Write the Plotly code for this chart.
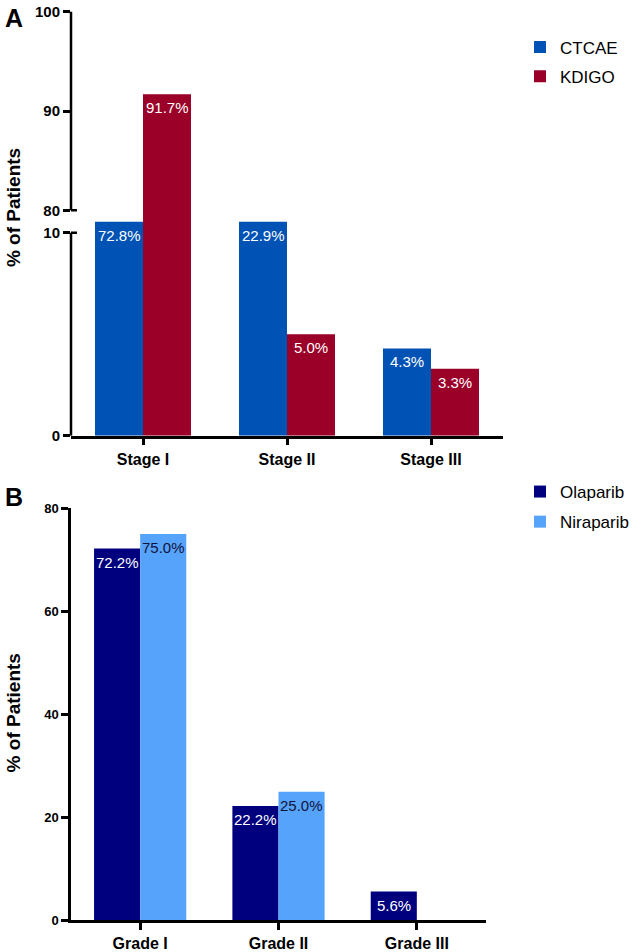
import plotly.graph_objects as go

# ---------------- data ----------------
stages = ["Stage I", "Stage II", "Stage III"]
ctcae = [72.8, 22.9, 4.3]
kdigo = [91.7, 5.0, 3.3]

grades = ["Grade I", "Grade II", "Grade III"]
olaparib = [72.2, 22.2, 5.6]
niraparib = [75.0, 25.0, 0.0]

top_lower_ticks = [0, 10]
top_upper_ticks = [80, 90, 100]
bottom_ticks = [0, 20, 40, 60, 80]

# ---------------- styling / layout geometry (pixels) ----------------
W, H = 634, 952
FONT = "Liberation Sans, Arial, Helvetica, sans-serif"
C_CTCAE = "#0052B4"
C_KDIGO = "#9A0028"
C_OLA = "#00007E"
C_NIRA = "#56A3FC"
LW = 2.5


def py(px):
    return 1 - px / H


def pxx(px):
    return px / W


top_x = (71, 503)
# pixel anchors of the broken axis
up_top_px, up_bot_px = 2, 207        # pixel of 100 and 80
lo_top_px, lo_bot_px = 230, 437      # pixel of 10 and 0
break_px = 219                       # where the two segments meet
overlap = 2                          # upper segment reaches a little lower to hide the seam
lo_scale = (lo_bot_px - lo_top_px) / (top_lower_ticks[-1] - top_lower_ticks[0])
up_scale = (up_bot_px - up_top_px) / (top_upper_ticks[-1] - top_upper_ticks[0])
lower_range = [0, (lo_bot_px - break_px) / lo_scale]
upper_range = [top_upper_ticks[0] - (break_px + overlap - up_bot_px) / up_scale,
               top_upper_ticks[-1] + 3 / up_scale]

bot_x = (71, 486)
bot_y = (931, 511)

fig = go.Figure()

for ya, show in (("y", True), ("y2", False)):
    fig.add_trace(go.Bar(x=stages, y=ctcae, name="CTCAE", marker_color=C_CTCAE,
                         xaxis="x", yaxis=ya, showlegend=show, legend="legend",
                         legendgroup="c", offsetgroup="c", marker_line_width=0))
    fig.add_trace(go.Bar(x=stages, y=kdigo, name="KDIGO", marker_color=C_KDIGO,
                         xaxis="x", yaxis=ya, showlegend=show, legend="legend",
                         legendgroup="k", offsetgroup="k", marker_line_width=0))

fig.add_trace(go.Bar(x=grades, y=olaparib, name="Olaparib", marker_color=C_OLA,
                     xaxis="x2", yaxis="y3", legend="legend2", legendgroup="o",
                     offsetgroup="o", marker_line_width=0))
fig.add_trace(go.Bar(x=grades, y=niraparib, name="Niraparib", marker_color=C_NIRA,
                     xaxis="x2", yaxis="y3", legend="legend2", legendgroup="n",
                     offsetgroup="n", marker_line_width=0))

bargap = 1 / 3
annotations = []


def half_bar(xpx):
    cat = (xpx[1] - xpx[0]) / 3
    return cat * (1 - bargap) / 4


hb_top = half_bar(top_x)
for vals, shift in ((ctcae, -hb_top), (kdigo, hb_top)):
    for cat, v in zip(stages, vals):
        if v >= top_upper_ticks[0]:
            yref, yv = "y2", v
        else:
            yref, yv = "y", min(v, lower_range[1])
        annotations.append(dict(x=cat, y=yv, xref="x", yref=yref, xshift=shift,
                                yshift=-3, yanchor="top", showarrow=False,
                                text=f"{v:.1f}%", font=dict(family=FONT, size=15, color="white")))

hb_bot = half_bar(bot_x)
for vals, shift, col in ((olaparib, -hb_bot, "white"), (niraparib, hb_bot, "#12123a")):
    for cat, v in zip(grades, vals):
        if v <= 0:
            continue
        annotations.append(dict(x=cat, y=v, xref="x2", yref="y3", xshift=shift,
                                yshift=-3, yanchor="top", showarrow=False,
                                text=f"{v:.1f}%", font=dict(family=FONT, size=15, color=col)))

annotations += [
    dict(text="A", x=pxx(3), y=py(11), xref="paper", yref="paper", xanchor="left",
         yanchor="middle", showarrow=False, font=dict(family=FONT, size=25, color="black", weight="bold")),
    dict(text="B", x=pxx(3), y=py(499), xref="paper", yref="paper", xanchor="left",
         yanchor="middle", showarrow=False, font=dict(family=FONT, size=25, color="black", weight="bold")),
    dict(text="% of Patients", x=pxx(13), y=py(205), xref="paper", yref="paper", textangle=-90,
         xanchor="center", yanchor="middle", showarrow=False,
         font=dict(family=FONT, size=19, color="black", weight="bold")),
    dict(text="% of Patients", x=pxx(13), y=py(720), xref="paper", yref="paper", textangle=-90,
         xanchor="center", yanchor="middle", showarrow=False,
         font=dict(family=FONT, size=19, color="black", weight="bold")),
]

line = dict(color="black", width=LW)
cap = 6 / (top_x[1] - top_x[0])
shapes = [
    dict(type="line", xref="x domain", yref="y", x0=0, x1=0,
         y0=top_lower_ticks[0], y1=top_lower_ticks[-1], line=line),
    dict(type="line", xref="x domain", yref="y2", x0=0, x1=0,
         y0=top_upper_ticks[0], y1=top_upper_ticks[-1], line=line),
    dict(type="line", xref="x domain", yref="y", x0=0, x1=cap,
         y0=top_lower_ticks[-1], y1=top_lower_ticks[-1], line=line),
    dict(type="line", xref="x domain", yref="y2", x0=0, x1=cap,
         y0=top_upper_ticks[0], y1=top_upper_ticks[0], line=line),
]

tickfont_y = dict(family=FONT, size=15, color="black", weight="bold")
tickfont_x = dict(family=FONT, size=16, color="black", weight="bold")

common_y = dict(showgrid=False, zeroline=False, ticks="outside", ticklen=7,
                tickwidth=LW, tickcolor="black", tickfont=tickfont_y, fixedrange=True)
common_x = dict(showgrid=False, zeroline=False, showline=True, linewidth=LW, linecolor="black",
                ticks="outside", ticklen=7, tickwidth=LW, tickcolor="black",
                tickfont=tickfont_x, range=[-0.5, 2.5], fixedrange=True)

fig.update_layout(
    width=W, height=H,
    margin=dict(l=0, r=0, t=0, b=0),
    paper_bgcolor="white", plot_bgcolor="rgba(0,0,0,0)",
    barmode="group", bargap=bargap, bargroupgap=0,
    font=dict(family=FONT, color="black"),
    xaxis=dict(domain=[pxx(top_x[0]), pxx(top_x[1])], anchor="y", **common_x),
    yaxis=dict(domain=[py(lo_bot_px), py(break_px)], range=lower_range,
               tickvals=top_lower_ticks, anchor="x", showline=False, **common_y),
    yaxis2=dict(domain=[py(break_px + overlap), py(up_top_px)], range=upper_range,
                tickvals=top_upper_ticks, anchor="x", showline=False, **common_y),
    xaxis2=dict(domain=[pxx(bot_x[0]), pxx(bot_x[1])], anchor="y3", **common_x),
    yaxis3=dict(domain=[py(bot_y[0]), py(bot_y[1])], range=[bottom_ticks[0], bottom_ticks[-1]],
                tickvals=bottom_ticks, anchor="x2", showline=True, linewidth=LW,
                linecolor="black", **{**common_y, "tickfont": dict(family=FONT, size=13, color="black", weight="bold")}),
    legend=dict(x=pxx(520), y=py(23), xanchor="left", yanchor="top", traceorder="grouped",
                tracegroupgap=4, font=dict(family=FONT, size=17, color="black"),
                bgcolor="rgba(0,0,0,0)"),
    legend2=dict(x=pxx(520), y=py(476), xanchor="left", yanchor="top", traceorder="grouped",
                 tracegroupgap=5, font=dict(family=FONT, size=17, color="black"),
                 bgcolor="rgba(0,0,0,0)"),
    annotations=annotations,
    shapes=shapes,
    showlegend=True,
)

fig.write_html("out.html", post_script="document.body.style.margin='0';",
               config={"displayModeBar": False})
